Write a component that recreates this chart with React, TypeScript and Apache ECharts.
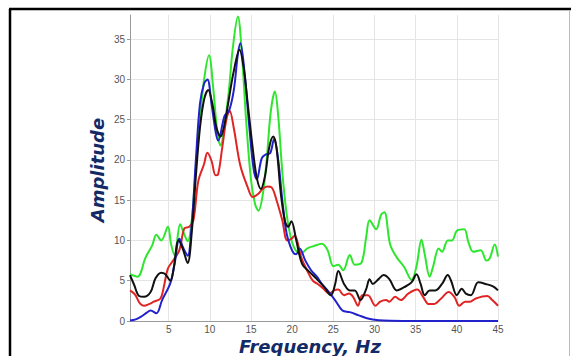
import React, { useEffect, useRef } from "react";
import * as echarts from "echarts";

const xTicks = [5, 10, 15, 20, 25, 30, 35, 40, 45];
const yTicks = [0, 5, 10, 15, 20, 25, 30, 35];

const greenSeries: number[][] = [
  [0.3, 5.8], [1.2, 5.5], [2.2, 7.9], [3.0, 9.4], [3.5, 10.7], [4.1, 10.0], [4.9, 11.7], [5.3, 9.5], [5.7, 8.2],
  [6.4, 12.0], [6.8, 11.0], [7.3, 9.9], [7.8, 12.5], [8.3, 19], [8.8, 25], [9.3, 30], [9.9, 33.0], [10.4, 29],
  [10.9, 23.5], [11.3, 21.8], [11.8, 24.5], [12.3, 28.5], [12.8, 34], [13.4, 37.8], [13.9, 33], [14.4, 25],
  [15.0, 17.5], [15.5, 14.5], [15.9, 13.7], [16.4, 15.5], [16.9, 20], [17.4, 26], [17.9, 28.5], [18.3, 25.5],
  [18.8, 18.5], [19.3, 13.5], [19.8, 10.5], [20.3, 9.0], [21.0, 8.3], [21.8, 9.0], [22.6, 9.3], [23.6, 9.6],
  [24.3, 8.8], [25.0, 6.8], [25.6, 7.0], [26.2, 6.3], [27.0, 8.2], [27.6, 7.0], [28.4, 7.2], [29.0, 10.5],
  [29.4, 12.5], [30.2, 11.4], [30.8, 13.2], [31.2, 13.5], [31.9, 9.5], [32.7, 7.9], [33.6, 6.7], [34.5, 5.1],
  [35.1, 6.8], [35.7, 10.1], [36.1, 8.3], [36.7, 5.5], [37.1, 6.7], [37.8, 9.0], [38.2, 8.6], [38.9, 10.0],
  [39.4, 10.0], [40.0, 11.2], [40.9, 11.4], [41.4, 9.8], [42.0, 8.6], [42.9, 8.8], [43.6, 7.5], [44.0, 7.8],
  [44.6, 9.5], [45, 8.0],
];

const blueSeries: number[][] = [
  [0.3, 0.05], [1.0, 0.2], [1.6, 0.5], [2.3, 1.0], [2.8, 1.3], [3.5, 0.95], [4.2, 2.6], [5.2, 4.7], [5.7, 7],
  [6.3, 10.2], [6.8, 9.0], [7.3, 8.1], [7.8, 12], [8.3, 20], [8.8, 27], [9.3, 29.5], [9.7, 30], [10.2, 27],
  [10.7, 23.5], [11.0, 22.4], [11.8, 25.5], [12.3, 26], [12.9, 28.6], [13.4, 33.1], [13.7, 34.5], [14.2, 31],
  [14.8, 24], [15.3, 19], [15.7, 17.6], [16.3, 20.2], [16.8, 20.7], [17.3, 20.8], [17.8, 22.6], [18.3, 20],
  [18.8, 15], [19.3, 11], [19.8, 9.2], [20.2, 8.4], [20.5, 8.3], [20.9, 9.0], [21.6, 7.5], [22.3, 6.3],
  [23.0, 5.5], [23.6, 4.6], [24.3, 3.8], [25.2, 2.6], [26.1, 1.3], [27.0, 1.1], [28.1, 0.7], [29.2, 0.3],
  [30.5, 0.1], [32, 0.03], [35, 0], [40, 0], [45, 0],
];

const blackSeries: number[][] = [
  [0.3, 5.7], [0.8, 4.5], [1.4, 3.1], [2.0, 3.0], [2.8, 3.6], [3.4, 5.3], [4.1, 6.0], [4.6, 5.8], [5.2, 5.0],
  [5.6, 6.5], [6.2, 10.0], [6.7, 9.0], [7.3, 7.2], [7.8, 11], [8.3, 18], [8.8, 24], [9.3, 27.5], [9.8, 28.7],
  [10.3, 27], [10.8, 24], [11.3, 22.9], [11.8, 24.5], [12.3, 27.5], [12.9, 31], [13.6, 33.7], [14.1, 31.5],
  [14.6, 27], [15.2, 21.5], [15.7, 17.8], [16.2, 16.4], [16.7, 18], [17.2, 21.5], [17.7, 22.9], [18.1, 21.5],
  [18.6, 16], [19.1, 12.5], [19.5, 11.7], [19.9, 12.4], [20.5, 10], [21.2, 7.1], [22.1, 6.1], [23.0, 5.2],
  [23.9, 4.2], [24.7, 3.2], [25.2, 4.5], [25.6, 6.2], [26.3, 4.6], [27.0, 3.8], [27.6, 3.8], [28.3, 2.6],
  [29.0, 4.0], [29.4, 5.2], [29.8, 4.6], [30.5, 5.2], [31.1, 5.7], [31.8, 5.2], [32.7, 3.8], [33.6, 4.2],
  [34.5, 4.8], [35.1, 5.8], [35.6, 4.6], [36.1, 3.2], [36.7, 3.8], [37.4, 3.8], [38.2, 4.6], [38.9, 5.7],
  [39.3, 5.0], [40.0, 3.2], [40.6, 4.0], [41.1, 3.4], [41.7, 3.2], [42.6, 4.8], [43.5, 4.6], [44.4, 4.3],
  [45, 3.8],
];

const redSeries: number[][] = [
  [0.3, 3.8], [0.9, 3.3], [1.5, 2.2], [2.0, 1.9], [2.6, 2.1], [3.2, 2.4], [4.0, 2.8], [4.4, 4.2], [4.9, 6.5],
  [5.6, 7.6], [6.3, 8.8], [6.9, 11.5], [7.5, 11.7], [8.0, 12.5], [8.6, 17.4], [9.3, 19.5], [9.7, 20.9],
  [10.2, 19.9], [10.7, 18.1], [11.0, 18.2], [11.5, 21.5], [12.0, 25], [12.4, 26.1], [12.9, 24], [13.7, 19.3],
  [14.6, 16.6], [15.2, 15.4], [15.9, 15.8], [16.4, 16.4], [17.0, 16.7], [17.5, 16.6], [18.1, 15.0],
  [18.8, 12.5], [19.4, 10.0], [19.9, 10.2], [20.3, 10.6], [20.6, 10], [21.1, 7.9], [21.8, 6.3], [22.5, 5.0],
  [23.1, 4.6], [23.8, 4.0], [24.5, 3.4], [25.1, 3.8], [25.6, 3.9], [26.3, 3.2], [26.9, 3.4], [27.4, 3.0],
  [28.0, 1.9], [28.5, 3.2], [29.2, 3.2], [30.1, 1.9], [30.7, 2.4], [31.4, 2.6], [31.8, 2.4], [32.5, 3.0],
  [33.2, 2.6], [34.1, 3.4], [35.2, 3.9], [35.9, 3.0], [36.6, 2.1], [37.2, 2.1], [38.1, 2.8], [39.0, 3.6],
  [39.7, 3.0], [40.3, 1.9], [41.0, 2.4], [41.6, 2.4], [42.3, 2.8], [43.7, 3.1], [44.3, 2.6], [45, 1.9],
];

const xTitle = "Frequency, Hz";
const yTitle = "Amplitude";

export default function App() {
  const ref = useRef<HTMLDivElement>(null);
  useEffect(() => {
    document.body.style.margin = "0";
    const chart = echarts.init(ref.current!, null, { renderer: "svg" });
    const mk = (name: string, data: number[][], color: string, z: number) => ({
      name,
      type: "line",
      data,
      smooth: 0.35,
      showSymbol: false,
      symbol: "none",
      z,
      lineStyle: { color, width: 2 },
    });
    chart.setOption({
      animation: false,
      backgroundColor: "#ffffff",
      grid: { left: 130, right: 73, top: 15, bottom: 35 },
      xAxis: {
        type: "value",
        min: 0.3,
        max: 45,
        axisLine: { show: true, onZero: false, lineStyle: { color: "#9a9a9a", width: 1 } },
        axisTick: { show: false, customValues: xTicks },
        axisLabel: {
          customValues: xTicks,
          color: "#555",
          fontSize: 10,
          lineHeight: 11,
          fontFamily: "Liberation Sans",
          margin: 3,
        },
        splitLine: { show: true, lineStyle: { color: "#e4e4e4", width: 1 } },
      },
      yAxis: {
        type: "value",
        min: 0,
        max: 38,
        axisLine: { show: true, lineStyle: { color: "#9a9a9a", width: 1 } },
        axisTick: { show: true, length: 3, customValues: yTicks, lineStyle: { color: "#9a9a9a" } },
        axisLabel: { customValues: yTicks, color: "#555", fontSize: 10, fontFamily: "Liberation Sans", margin: 5 },
        splitLine: { show: true, lineStyle: { color: "#e4e4e4", width: 1 } },
      },
      graphic: [
        { type: "line", shape: { x1: 9, y1: 9, x2: 571, y2: 9 }, style: { stroke: "#000", lineWidth: 2.5 } },
        { type: "line", shape: { x1: 10, y1: 9, x2: 10, y2: 356 }, style: { stroke: "#000", lineWidth: 2.5 } },
        { type: "line", shape: { x1: 569.5, y1: 10, x2: 569.5, y2: 356 }, style: { stroke: "#bbbbbb", lineWidth: 1 } },
        {
          type: "text",
          x: 97,
          y: 170,
          rotation: Math.PI / 2,
          style: {
            text: yTitle,
            fill: "#132a66",
            font: "italic bold 18px 'DejaVu Sans'",
            textAlign: "center",
            textVerticalAlign: "middle",
          },
        },
        {
          type: "text",
          x: 310,
          y: 346.5,
          style: {
            text: xTitle,
            fill: "#132a66",
            font: "italic bold 18px 'DejaVu Sans'",
            lineHeight: 18,
            textAlign: "center",
            textVerticalAlign: "middle",
          },
        },
      ],
      series: [
        mk("green", greenSeries, "#2ee62e", 2),
        mk("red", redSeries, "#e02424", 3),
        mk("blue", blueSeries, "#2222cc", 4),
        mk("black", blackSeries, "#111111", 5),
      ],
    });
    return () => chart.dispose();
  }, []);
  return <div ref={ref} style={{ width: 571, height: 356 }} />;
}
